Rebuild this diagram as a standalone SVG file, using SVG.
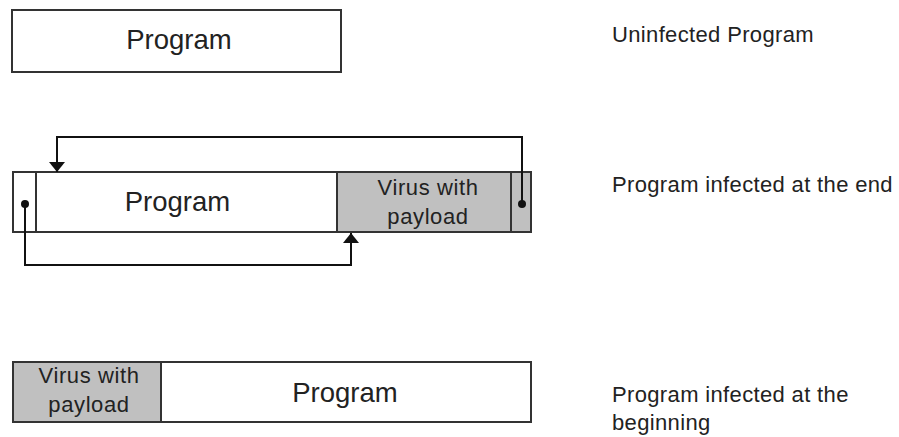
<svg xmlns="http://www.w3.org/2000/svg" width="899" height="437" viewBox="0 0 899 437">
<style>
.box{stroke:#333;stroke-width:2;fill:#fff}
.gray{fill:#c0c0c0}
.t{font-family:"Liberation Sans",Arial,sans-serif;fill:#222;text-anchor:middle}
.big{font-size:27.5px}
.mid{font-size:22px;letter-spacing:0.6px}
.lbl{font-family:"Liberation Sans",Arial,sans-serif;fill:#222;font-size:22px;letter-spacing:0.35px}
.conn{stroke:#111;stroke-width:2;fill:none}
</style>
<defs>
<marker id="ah" viewBox="0 0 10 10" refX="10" refY="5" markerWidth="10" markerHeight="16" markerUnits="userSpaceOnUse" orient="auto" preserveAspectRatio="none">
<path d="M0,0 L10,5 L0,10 z" fill="#111"/>
</marker>
</defs>
<rect width="899" height="437" fill="#fff"/>
<g id="uninfected">
<rect class="box" x="12" y="10" width="329" height="62"/>
<text class="t big" x="179" y="49">Program</text>
</g>
<g id="end-infected">
<rect class="box" x="13" y="172" width="23" height="60"/>
<rect class="box" x="36" y="172" width="301" height="60"/>
<text class="t big" x="177.5" y="211">Program</text>
<rect class="box gray" x="337" y="172" width="174" height="60"/>
<text class="t mid" x="428" y="195">Virus with</text>
<text class="t mid" x="428" y="224">payload</text>
<rect class="box gray" x="511" y="172" width="20" height="60"/>
<circle cx="25" cy="204" r="4" fill="#111"/>
<circle cx="522" cy="204" r="4" fill="#111"/>
</g>
<g id="begin-infected">
<rect class="box gray" x="13" y="362" width="148" height="60"/>
<text class="t mid" x="89" y="383">Virus with</text>
<text class="t mid" x="89" y="412">payload</text>
<rect class="box" x="161" y="362" width="370" height="60"/>
<text class="t big" x="345" y="402">Program</text>
</g>
<g id="connectors">
<polyline class="conn" points="522,204 522,137 57,137 57,172" marker-end="url(#ah)"/>
<polyline class="conn" points="25,204 25,265 351,265 351,233" marker-end="url(#ah)"/>
</g>
<g id="labels">
<text class="lbl" x="612" y="42">Uninfected Program</text>
<text class="lbl" x="612" y="192">Program infected at the end</text>
<text class="lbl" x="612" y="402">Program infected at the</text>
<text class="lbl" x="612" y="430">beginning</text>
</g>
</svg>
